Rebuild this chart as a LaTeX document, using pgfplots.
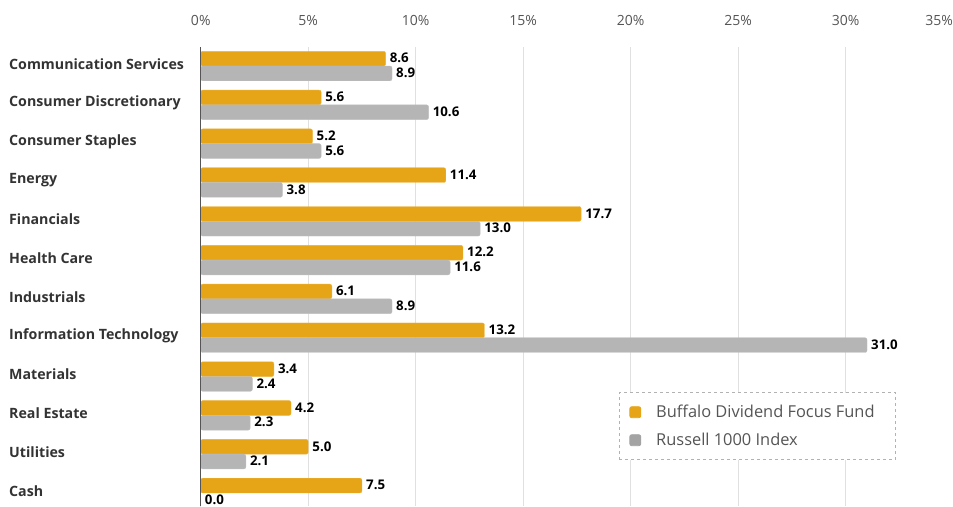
\documentclass[border=0pt]{standalone}
\usepackage{pgfplots}
\pgfplotsset{compat=1.18}
\usepackage{fontspec}
\setmainfont{Open Sans}
\definecolor{orangec}{HTML}{E6A517}
\definecolor{grayc}{HTML}{B5B5B5}
\definecolor{gridc}{HTML}{E0E0E0}
\definecolor{labc}{HTML}{333333}
\definecolor{tickc}{HTML}{555555}
\begin{document}
\begin{tikzpicture}
\begin{axis}[
  scale only axis,
  width=752pt, height=459pt,
  xmin=0, xmax=35,
  ymin=-0.49, ymax=11.34,
  y dir=reverse,
  xbar, bar width=0.38,
  xtick={0,5,10,15,20,25,30},
  extra x ticks={35},
  extra x tick style={grid=none, xticklabel style={anchor=south east, xshift=0pt}},
  xticklabel={\pgfmathprintnumber{\tick}\%},
  xticklabel pos=upper,
  xticklabel style={anchor=south, inner sep=0pt, yshift=21pt, font=\fontsize{14}{16}\selectfont, text=tickc},
  /pgf/number format/assume math mode=true,
  xmajorgrids, major grid style={gridc, line width=1pt},
  major tick length=0pt,
  ytick={0,...,11},
  yticklabels={Communication Services, Consumer Discretionary, Consumer Staples, Energy, Financials, Health Care, Industrials, Information Technology, Materials, Real Estate, Utilities, Cash},
  yticklabel style={anchor=west, inner sep=0pt, xshift=-191.7pt, yshift=2pt, font=\fontsize{14.2}{16}\selectfont\bfseries, text=labc},
  axis line style={draw=none},
  nodes near coords,
  nodes near coords style={anchor=west, inner sep=4pt, yshift=0.5pt, font=\fontsize{13.3}{15}\selectfont\bfseries, text=black, /pgf/number format/.cd, fixed, precision=1, zerofill, assume math mode=true},
  point meta=explicit,
  legend style={at={(rel axis cs:0.556,0.248)}, anchor=north west, draw=gray!60, dashed, line width=0.8pt, inner xsep=10pt, inner ysep=10.5pt, row sep=10pt, font=\fontsize{16.4}{19}\selectfont, text=tickc},
  legend cell align=left,
  clip=false,
]
\addplot+[fill=orangec, draw=orangec!85!white, rounded corners=2pt, bar shift=-0.19,
  legend image code/.code={\fill[orangec] (0pt,-5.5pt) rectangle (11pt,5.5pt);}]
  coordinates {(8.6,0) [8.6] (5.6,1) [5.6] (5.2,2) [5.2] (11.4,3) [11.4] (17.7,4) [17.7] (12.2,5) [12.2] (6.1,6) [6.1] (13.2,7) [13.2] (3.4,8) [3.4] (4.2,9) [4.2] (5.0,10) [5.0] (7.5,11) [7.5]};
\addlegendentry{\hspace*{13pt}Buffalo Dividend Focus Fund\hspace*{9pt}\mbox{}}
\addplot+[fill=grayc, draw=grayc!85!white, rounded corners=2pt, bar shift=0.19,
  legend image code/.code={\fill[grayc!90!black] (0pt,-5.5pt) rectangle (11pt,5.5pt);}]
  coordinates {(8.9,0) [8.9] (10.6,1) [10.6] (5.6,2) [5.6] (3.8,3) [3.8] (13.0,4) [13.0] (11.6,5) [11.6] (8.9,6) [8.9] (31.0,7) [31.0] (2.4,8) [2.4] (2.3,9) [2.3] (2.1,10) [2.1] (0.0,11) [0.0]};
\addlegendentry{\hspace*{13pt}Russell 1000 Index}
\draw[tickc, line width=1pt] (rel axis cs:0,0) -- (rel axis cs:0,1);
\end{axis}
\pgfresetboundingbox
\path[use as bounding box] ([xshift=-200.7pt]current axis.south west) rectangle ([yshift=47pt]current axis.north east);
\end{tikzpicture}
\end{document}
